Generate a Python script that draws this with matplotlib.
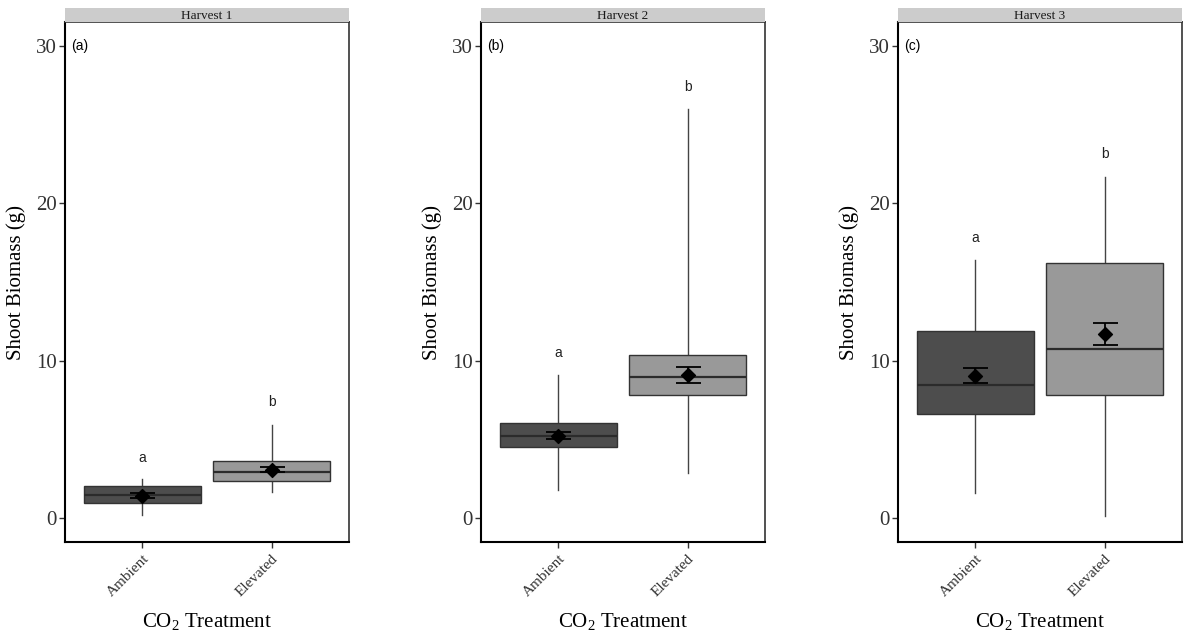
import numpy as np
import matplotlib.pyplot as plt

# Shoot biomass summary per harvest (Ambient, Elevated)
harvests = ["Harvest 1", "Harvest 2", "Harvest 3"]
panel_tags = ["(a)", "(b)", "(c)"]
treatments = ["Ambient", "Elevated"]

whis_lo = [[0.2, 1.7], [1.77, 2.85], [1.58, 0.13]]
q1 = [[0.95, 2.34], [4.56, 7.83], [6.65, 7.85]]
median = [[1.46, 2.97], [5.2, 9.0], [8.48, 10.76]]
q3 = [[2.03, 3.67], [6.08, 10.34], [11.9, 16.2]]
whis_hi = [[2.5, 5.95], [9.1, 26.0], [16.4, 21.67]]
means = [[1.45, 3.1], [5.25, 9.1], [9.05, 11.7]]
se = [[0.17, 0.15], [0.23, 0.53], [0.48, 0.69]]
letters = [["a", "b"], ["a", "b"], ["a", "b"]]
letter_y = [[3.86, 7.4], [10.5, 27.4], [17.8, 23.1]]

fills = ["#4d4d4d", "#999999"]
serif = ["Liberation Serif", "DejaVu Serif"]
sans = ["Liberation Sans", "DejaVu Sans"]

plt.rcParams["mathtext.fontset"] = "custom"
plt.rcParams["mathtext.rm"] = "Liberation Serif"
plt.rcParams["mathtext.it"] = "Liberation Serif:italic"

fig = plt.figure(figsize=(11.86, 6.33), dpi=100)
lefts = [65, 481, 898]

for i, h in enumerate(harvests):
    ax = fig.add_axes([lefts[i] / 1186, 1 - 542 / 633, 284 / 1186, 520 / 633])
    stats = []
    for j, t in enumerate(treatments):
        stats.append({"label": t, "whislo": whis_lo[i][j], "q1": q1[i][j], "med": median[i][j],
                      "q3": q3[i][j], "whishi": whis_hi[i][j], "fliers": []})
    bp = ax.bxp(stats, positions=[1, 2], widths=0.9, patch_artist=True, showcaps=False,
                boxprops=dict(edgecolor="#333333", linewidth=1.0, zorder=2),
                whiskerprops=dict(color="#444444", linewidth=1.0, zorder=1),
                medianprops=dict(color="#2b2b2b", linewidth=1.6, zorder=3))
    for patch, c in zip(bp["boxes"], fills):
        patch.set_facecolor(c)

    x = np.arange(1, 3)
    ax.errorbar(x, means[i], yerr=se[i], fmt="none", ecolor="black", elinewidth=1.3,
                capsize=9, capthick=1.3, zorder=4)
    ax.scatter(x, means[i], marker="D", s=50, color="black", zorder=5)

    for j in range(2):
        ax.text(x[j], letter_y[i][j], letters[i][j], ha="center", va="center",
                fontsize=10, family=sans, color="#222222")
    ax.text(0.45, 30, panel_tags[i], ha="left", va="center", fontsize=10, family=sans)

    ax.set_xlim(0.4, 2.6)
    ax.set_ylim(-1.5, 31.5)
    ax.set_yticks([0, 10, 20, 30])
    ax.set_xticks([1, 2])
    ax.set_xticklabels(treatments, rotation=45, ha="right", rotation_mode="anchor",
                       fontsize=11, family=serif, color="#333333")
    for lab in ax.get_yticklabels():
        lab.set_family(serif)
        lab.set_fontsize(15)
        lab.set_color("#333333")
    ax.tick_params(axis="both", length=4, width=1, color="#333333")
    ax.tick_params(axis="y", pad=2)

    for s in ["left", "bottom"]:
        ax.spines[s].set_linewidth(1.5)
        ax.spines[s].set_color("black")
    for s in ["top", "right"]:
        ax.spines[s].set_linewidth(1.2)
        ax.spines[s].set_color("#333333")

    ax.set_ylabel("Shoot Biomass (g)", fontsize=15, family=serif, labelpad=7)
    ax.set_xlabel("CO$_2$ Treatment", fontsize=15, family=serif, labelpad=8)

    # facet strip
    strip = fig.add_axes([lefts[i] / 1186, 1 - 22 / 633, 284 / 1186, 14 / 633])
    strip.set_facecolor("#cccccc")
    strip.set_xticks([])
    strip.set_yticks([])
    for s in strip.spines.values():
        s.set_visible(False)
    strip.text(0.5, 0.45, h, ha="center", va="center", fontsize=9.5, family=serif,
               color="#1a1a1a", transform=strip.transAxes)

fig.savefig("out.png", dpi=100)
